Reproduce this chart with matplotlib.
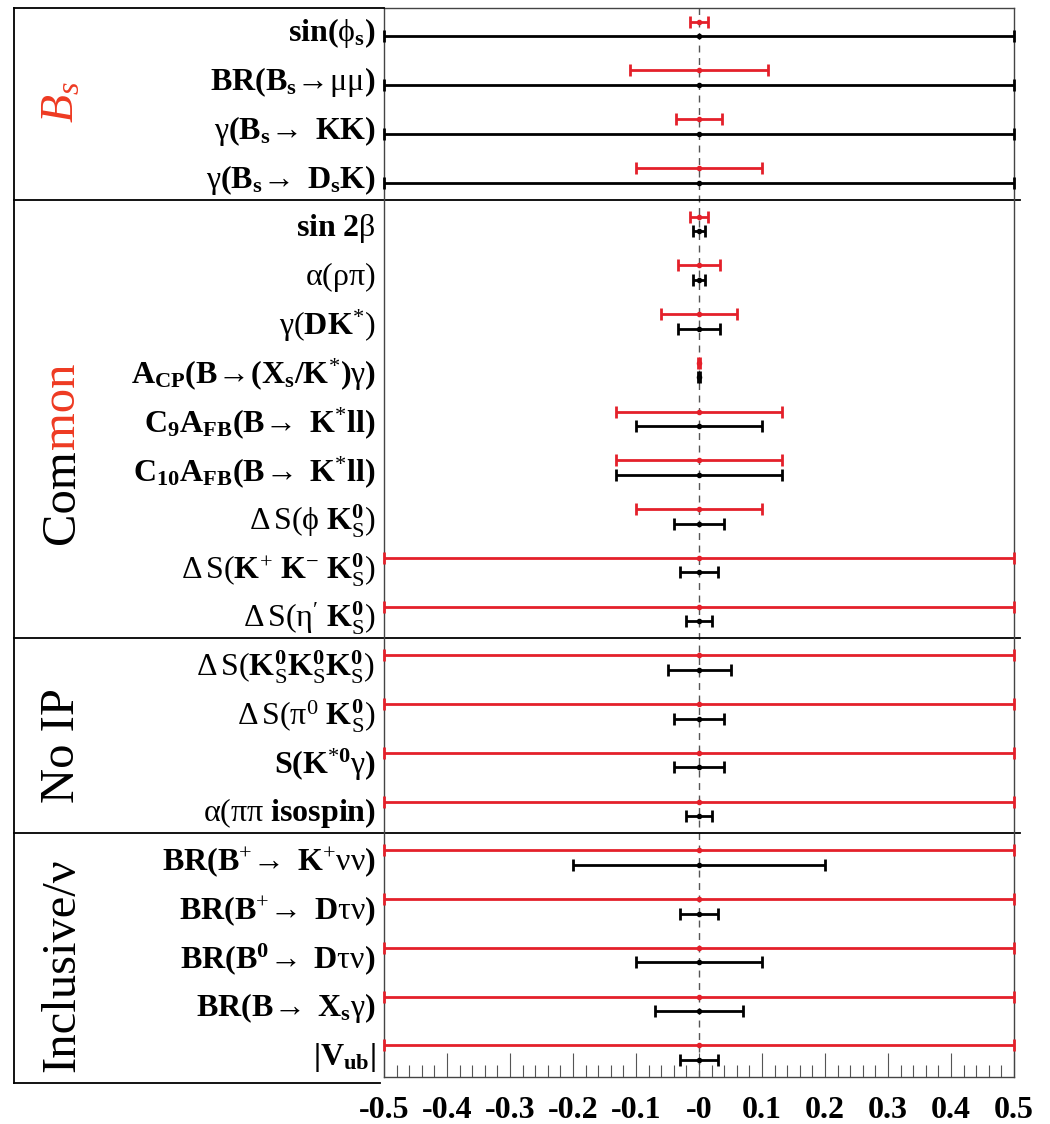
import numpy as np
import matplotlib
matplotlib.use("Agg")
import matplotlib.pyplot as plt
from matplotlib.transforms import blended_transform_factory
from matplotlib.ticker import MultipleLocator, FixedLocator

plt.rcParams['font.family'] = ['Liberation Serif', 'DejaVu Serif']
plt.rcParams['mathtext.fontset'] = 'custom'
plt.rcParams['mathtext.rm'] = 'Liberation Serif'
plt.rcParams['mathtext.it'] = 'Liberation Serif:italic'
plt.rcParams['mathtext.bf'] = 'Liberation Serif:bold'
plt.rcParams['mathtext.fallback'] = 'stix'

# ---------------- data ----------------
labels = [
    r"$\mathbf{sin(}\mathrm{\phi}_{\mathbf{s}}\mathbf{)}$",
    r"$\mathbf{BR(B}_{\mathbf{s}}\!\rightarrow\!\mathrm{\mu\mu}\mathbf{)}$",
    r"$\mathrm{\gamma}\mathbf{(B}_{\mathbf{s}}\!\rightarrow\ \mathbf{KK)}$",
    r"$\mathrm{\gamma}\mathbf{(B}_{\mathbf{s}}\!\rightarrow\ \mathbf{D}_{\mathbf{s}}\mathbf{K)}$",
    r"$\mathbf{sin\ 2}\mathrm{\beta}$",
    r"$\mathrm{\alpha(\rho\pi)}$",
    r"$\mathrm{\gamma(}\mathbf{DK}^{*}\mathrm{)}$",
    r"$\mathbf{A}_{\mathbf{CP}}\mathbf{(B}\!\rightarrow\!\mathbf{(X}_{\mathbf{s}}\mathbf{/K}^{*}\mathbf{)}\mathrm{\gamma}\mathbf{)}$",
    r"$\mathbf{C}_{\mathbf{9}}\mathbf{A}_{\mathbf{FB}}\mathbf{(B}\!\rightarrow\ \mathbf{K}^{*}\mathbf{ll)}$",
    r"$\mathbf{C}_{\mathbf{10}}\mathbf{A}_{\mathbf{FB}}\mathbf{(B}\!\rightarrow\ \mathbf{K}^{*}\mathbf{ll)}$",
    r"$\mathrm{\Delta\,S(\phi\ }\mathbf{K}_{\mathrm{S}}^{\mathbf{0}}\mathrm{)}$",
    r"$\mathrm{\Delta\,S(}\mathbf{K}^{+}\ \mathbf{K}^{-}\ \mathbf{K}_{\mathrm{S}}^{\mathbf{0}}\mathrm{)}$",
    r"$\mathrm{\Delta\,S(\eta'\ }\mathbf{K}_{\mathrm{S}}^{\mathbf{0}}\mathrm{)}$",
    r"$\mathrm{\Delta\,S(}\mathbf{K}_{\mathrm{S}}^{\mathbf{0}}\mathbf{K}_{\mathrm{S}}^{\mathbf{0}}\mathbf{K}_{\mathrm{S}}^{\mathbf{0}}\mathrm{)}$",
    r"$\mathrm{\Delta\,S(\pi}^{\mathrm{0}}\ \mathbf{K}_{\mathrm{S}}^{\mathbf{0}}\mathrm{)}$",
    r"$\mathbf{S(K}^{*\mathbf{0}}\mathrm{\gamma}\mathbf{)}$",
    r"$\mathrm{\alpha(\pi\pi\ }\mathbf{isospin)}$",
    r"$\mathbf{BR(B}^{+}\!\rightarrow\ \mathbf{K}^{+}\mathrm{\nu\nu}\mathbf{)}$",
    r"$\mathbf{BR(B}^{+}\!\rightarrow\ \mathbf{D}\mathrm{\tau\nu}\mathbf{)}$",
    r"$\mathbf{BR(B}^{\mathbf{0}}\!\rightarrow\ \mathbf{D}\mathrm{\tau\nu}\mathbf{)}$",
    r"$\mathbf{BR(B}\!\rightarrow\ \mathbf{X}_{\mathbf{s}}\mathrm{\gamma}\mathbf{)}$",
    r"$\mathbf{|V}_{\mathbf{ub}}\mathbf{|}$",
]

group_names = ["Bs", "Common", "No IP", "Inclusive/ν"]
group_sizes = [4, 9, 4, 5]

central = [0.0] * 22
red_err = [0.015, 0.11, 0.037, 0.10,
           0.014, 0.033, 0.06, 0.002, 0.132, 0.132, 0.10, 0.5, 0.5,
           0.5, 0.5, 0.5, 0.5,
           0.5, 0.5, 0.5, 0.5, 0.5]
black_err = [0.5, 0.5, 0.5, 0.5,
             0.01, 0.01, 0.034, 0.002, 0.10, 0.132, 0.04, 0.03, 0.02,
             0.05, 0.04, 0.04, 0.02,
             0.2, 0.03, 0.10, 0.07, 0.03]

xticks = [-0.5, -0.4, -0.3, -0.2, -0.1, 0.0, 0.1, 0.2, 0.3, 0.4, 0.5]
xticklabels = ["-0.5", "-0.4", "-0.3", "-0.2", "-0.1", "-0", "0.1", "0.2", "0.3", "0.4", "0.5"]

RED = "#e4202a"
LABEL_RED = "#ee3a22"

# ---------------- figure ----------------
W, H = 1050, 1124
fig = plt.figure(figsize=(W / 100, H / 100), dpi=100)
ax = fig.add_axes([384 / W, 1 - 1077 / H, 630 / W, (1077 - 8) / H])

n = len(labels)
y = np.arange(n)
off = 0.15

ax.errorbar(central, y - off, xerr=red_err, fmt='o', ms=3, color=RED,
            ecolor=RED, elinewidth=2.0, capsize=4, capthick=2.0, clip_on=False, zorder=3)
ax.errorbar(central, y + off, xerr=black_err, fmt='o', ms=3, color='black',
            ecolor='black', elinewidth=2.0, capsize=4, capthick=2.0, clip_on=False, zorder=3)

ax.axvline(0, color='#555555', lw=1.0, ls=(0, (5, 4)), zorder=1)

ax.set_xlim(-0.5, 0.5)
ax.set_ylim(21.5, -0.43)

ax.set_yticks(y)
ax.set_yticklabels(labels, fontsize=23)
ax.tick_params(axis='y', length=0, pad=6)

ax.xaxis.set_major_locator(FixedLocator(xticks))
ax.set_xticklabels(xticklabels, fontsize=23, fontweight='bold')
ax.xaxis.set_minor_locator(MultipleLocator(0.02))
ax.tick_params(axis='x', which='major', direction='in', length=17, width=0.8,
               color='#555555', pad=14)
ax.tick_params(axis='x', which='minor', direction='in', length=8.5, width=0.8,
               color='#555555')
for s in ax.spines.values():
    s.set_linewidth(1.0)
    s.set_color('#444444')

# ---------------- section frame ----------------
xl = 14 / W
xr = 1020 / W
tr = blended_transform_factory(fig.transFigure, ax.transData)
bounds = np.cumsum(group_sizes)[:-1] - 0.5
for b in bounds:
    ax.plot([xl, xr], [b, b], color='black', lw=1.3, transform=tr, clip_on=False)

fig.add_artist(plt.Line2D([xl, xl], [1 - 8 / H, 1 - 1083 / H], color='black', lw=1.3,
                          transform=fig.transFigure))
fig.add_artist(plt.Line2D([xl, 384 / W], [1 - 8 / H, 1 - 8 / H], color='black', lw=1.3,
                          transform=fig.transFigure))
fig.add_artist(plt.Line2D([xl, 380 / W], [1 - 1083 / H, 1 - 1083 / H], color='black', lw=1.3,
                          transform=fig.transFigure))

# ---------------- group labels ----------------
starts = np.concatenate([[0], np.cumsum(group_sizes)[:-1]])
label_shift = [0.0, 0.7, 0.2, 0.2]
centers = [s + (g - 1) / 2 + d for s, g, d in zip(starts, group_sizes, label_shift)]
gx = 74 / W
fs = 35

ax.text(gx, centers[0], r"$B_{s}$", transform=tr, rotation=90, color=LABEL_RED,
        fontsize=33, ha='center', va='baseline', rotation_mode='anchor')

# "Common" with "Com" black and "mon" red
renderer = fig.canvas.get_renderer()
tmp = fig.text(0, 0, "Common", fontsize=fs, rotation=90)
full_h = tmp.get_window_extent(renderer).height
tmp.remove()
tmp = fig.text(0, 0, "Com", fontsize=fs, rotation=90)
com_h = tmp.get_window_extent(renderer).height
tmp.remove()
yc_disp = ax.transData.transform((0, centers[1]))[1]
y0 = (yc_disp - full_h / 2) / H
fig.text(gx, y0, "Com", fontsize=fs, rotation=90, rotation_mode='anchor',
         ha='left', va='baseline', color='black')
fig.text(gx, y0 + com_h / H, "mon", fontsize=fs, rotation=90, rotation_mode='anchor',
         ha='left', va='baseline', color=LABEL_RED)

for gi in (2, 3):
    ax.text(gx, centers[gi], group_names[gi], transform=tr, rotation=90, color='black',
            fontsize=fs, ha='center', va='baseline', rotation_mode='anchor')

fig.savefig("out.png", dpi=100)
